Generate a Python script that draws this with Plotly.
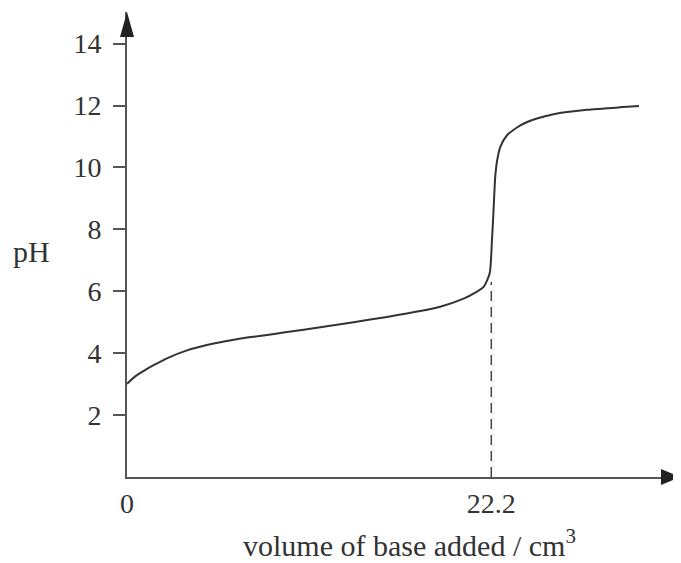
import plotly.graph_objects as go

# Data
volume = [0.0, 0.5, 1.0, 1.62, 2.5, 3.66, 4.7, 5.69, 6.7, 7.72, 9.75, 11.78, 13.81,
          15.84, 17.87, 19.09, 20.51, 21.3, 21.73, 22.1, 22.24, 22.34, 22.44,
          22.55, 22.75, 23.16, 23.97, 24.98, 26.0, 28.03, 30.0, 31.2]
ph = [3.01, 3.25, 3.42, 3.61, 3.85, 4.09, 4.24, 4.35, 4.45, 4.53, 4.68, 4.84, 5.0,
      5.17, 5.36, 5.5, 5.76, 5.98, 6.14, 6.57, 7.64, 8.65, 9.7,
      10.2, 10.66, 11.04, 11.36, 11.58, 11.72, 11.86, 11.94, 11.98]

equiv_volume = 22.2
equiv_ph_top = 6.3

y_tickvals = [2, 4, 6, 8, 10, 12, 14]
x_tickvals = [0, 22.2]
x_ticktext = ["0", "22.2"]

X_MAX = 33.70
Y_MAX = 15.02

FONT = "Times New Roman, Liberation Serif, DejaVu Serif, serif"
AX = "#555555"
INK = "#333333"

fig = go.Figure()

fig.add_trace(go.Scatter(
    x=[equiv_volume, equiv_volume], y=[0, equiv_ph_top], mode="lines",
    line=dict(color="#444444", width=1.5, dash="10px,6px"),
    hoverinfo="skip", showlegend=False))

fig.add_trace(go.Scatter(
    x=volume, y=ph, mode="lines",
    line=dict(color=INK, width=2, shape="spline", smoothing=0.6),
    showlegend=False))

# arrow heads (pixel-sized, anchored at axis ends)
fig.add_shape(type="path", xref="paper", yref="paper", xsizemode="pixel", ysizemode="pixel",
              xanchor=0, yanchor=1, path="M -7,-25 L 7,-25 L 0,0 Z",
              fillcolor="#222222", line=dict(width=0), layer="above")
fig.add_shape(type="path", xref="paper", yref="paper", xsizemode="pixel", ysizemode="pixel",
              xanchor=1, yanchor=0, path="M 0,0 L -19,8 L -19,-8 Z",
              fillcolor="#222222", line=dict(width=0), layer="above")

fig.add_annotation(text="pH", xref="paper", yref="paper",
                   x=(31 - 127) / 553, y=(476.6 - 251) / 465,
                   showarrow=False, font=dict(family=FONT, size=30, color=INK),
                   xanchor="center", yanchor="middle")
fig.add_annotation(text="volume of base added / cm<sup>3</sup>", xref="paper", yref="paper",
                   x=(409 - 127) / 553, y=(476.6 - 543) / 465,
                   showarrow=False, font=dict(family=FONT, size=30, color=INK),
                   xanchor="center", yanchor="middle")

fig.update_layout(
    width=673, height=555,
    margin=dict(l=119, r=1, t=4, b=86),
    paper_bgcolor="white", plot_bgcolor="white",
    xaxis=dict(range=[0, X_MAX], showgrid=False, zeroline=False,
               showline=True, linecolor=AX, linewidth=2,
               tickvals=x_tickvals, ticktext=x_ticktext, ticks="",
               ticklabelstandoff=0,
               tickfont=dict(family=FONT, size=28, color=INK)),
    yaxis=dict(range=[0, Y_MAX], showgrid=False, zeroline=False,
               showline=True, linecolor=AX, linewidth=2,
               tickvals=y_tickvals, ticks="outside", ticklen=12, tickwidth=2,
               tickcolor=AX, ticklabelstandoff=6,
               tickfont=dict(family=FONT, size=28, color=INK)),
)

fig.write_html("out.html")
